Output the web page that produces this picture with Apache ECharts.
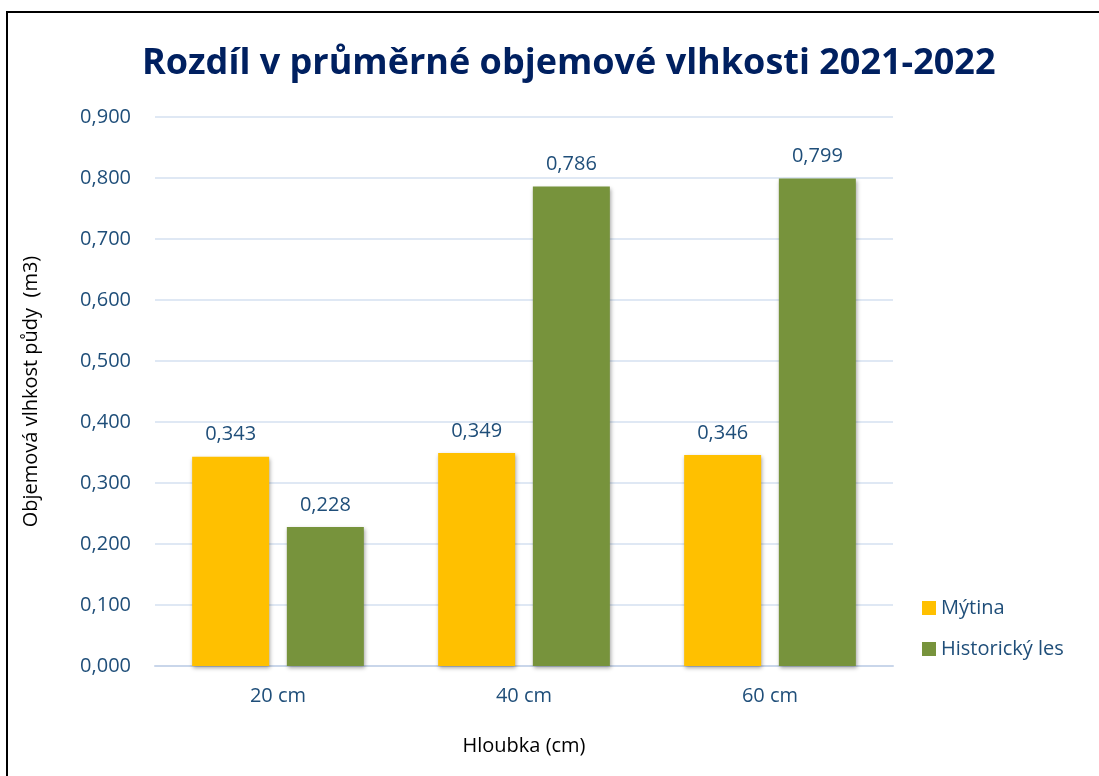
<!DOCTYPE html>
<html>
<head>
<meta charset="utf-8">
<script src="https://cdn.jsdelivr.net/npm/echarts@6/dist/echarts.min.js"></script>
<style>
  html, body { margin: 0; padding: 0; background: #fff; overflow: hidden; }
  #frame { position: absolute; left: 6px; top: 11px; width: 1110px; height: 800px; border: 2px solid #000; box-sizing: border-box; }
  #main { position: absolute; left: 0; top: 0; width: 1099px; height: 776px; }
</style>
</head>
<body>
<div id="frame"></div>
<div id="main"></div>
<script>
const categories = ['20 cm', '40 cm', '60 cm'];
const mytina = [0.343, 0.349, 0.346];
const historickyLes = [0.228, 0.786, 0.799];
const seriesNames = ['Mýtina', 'Historický les'];

const fontFamily = '"Open Sans", "Noto Sans", sans-serif';
const fmt = v => v.toFixed(3).replace('.', ',');

const myChart = echarts.init(document.getElementById('main'));

const option = {
    animation: false,
    title: {
        text: 'Rozdíl v průměrné objemové vlhkosti 2021-2022',
        left: 137,
        top: 41,
        textStyle: {
            fontFamily: fontFamily,
            fontSize: 36,
            fontWeight: 'bold',
            color: '#002060'
        }
    },
    grid: {
        left: 155,
        right: 206,
        top: 117,
        bottom: 110
    },
    legend: {
        orient: 'vertical',
        left: 917,
        top: 593,
        itemWidth: 14,
        itemHeight: 14,
        itemGap: 21,
        icon: 'rect',
        data: seriesNames,
        textStyle: {
            fontFamily: fontFamily,
            fontSize: 20,
            color: '#1F4E79'
        }
    },
    xAxis: {
        type: 'category',
        data: categories,
        name: 'Hloubka (cm)',
        nameLocation: 'middle',
        nameGap: 70,
        nameTextStyle: {
            fontFamily: fontFamily,
            fontSize: 20,
            color: '#000'
        },
        axisLine: { lineStyle: { color: '#C9D6EA', width: 2 } },
        axisTick: { show: false },
        axisLabel: {
            margin: 20,
            fontFamily: fontFamily,
            fontSize: 20,
            color: '#1F4E79'
        }
    },
    yAxis: {
        type: 'value',
        min: 0,
        max: 0.9,
        interval: 0.1,
        name: 'Objemová vlhkost půdy  (m3)',
        nameLocation: 'middle',
        nameGap: 114,
        nameTextStyle: {
            fontFamily: fontFamily,
            fontSize: 20,
            color: '#000'
        },
        axisLine: { show: false },
        axisTick: { show: false },
        axisLabel: {
            margin: 24,
            formatter: fmt,
            fontFamily: fontFamily,
            fontSize: 20,
            color: '#1F4E79'
        },
        splitLine: { lineStyle: { color: '#D5E0F0', width: 1.5 } }
    },
    series: [
        {
            name: seriesNames[0],
            type: 'bar',
            data: mytina,
            barWidth: 77,
            barGap: '23%',
            itemStyle: {
                color: '#FFC000',
                shadowBlur: 4,
                shadowColor: 'rgba(0,0,0,0.35)',
                shadowOffsetX: 1,
                shadowOffsetY: 2
            },
            label: {
                show: true,
                position: 'top',
                distance: 12,
                formatter: p => fmt(p.value),
                fontFamily: fontFamily,
                fontSize: 20,
                color: '#1F4E79'
            }
        },
        {
            name: seriesNames[1],
            type: 'bar',
            data: historickyLes,
            barWidth: 77,
            itemStyle: {
                color: '#77933C',
                shadowBlur: 4,
                shadowColor: 'rgba(0,0,0,0.35)',
                shadowOffsetX: 1,
                shadowOffsetY: 2
            },
            label: {
                show: true,
                position: 'top',
                distance: 12,
                formatter: p => fmt(p.value),
                fontFamily: fontFamily,
                fontSize: 20,
                color: '#1F4E79'
            }
        }
    ]
};

myChart.setOption(option);
</script>
</body>
</html>
